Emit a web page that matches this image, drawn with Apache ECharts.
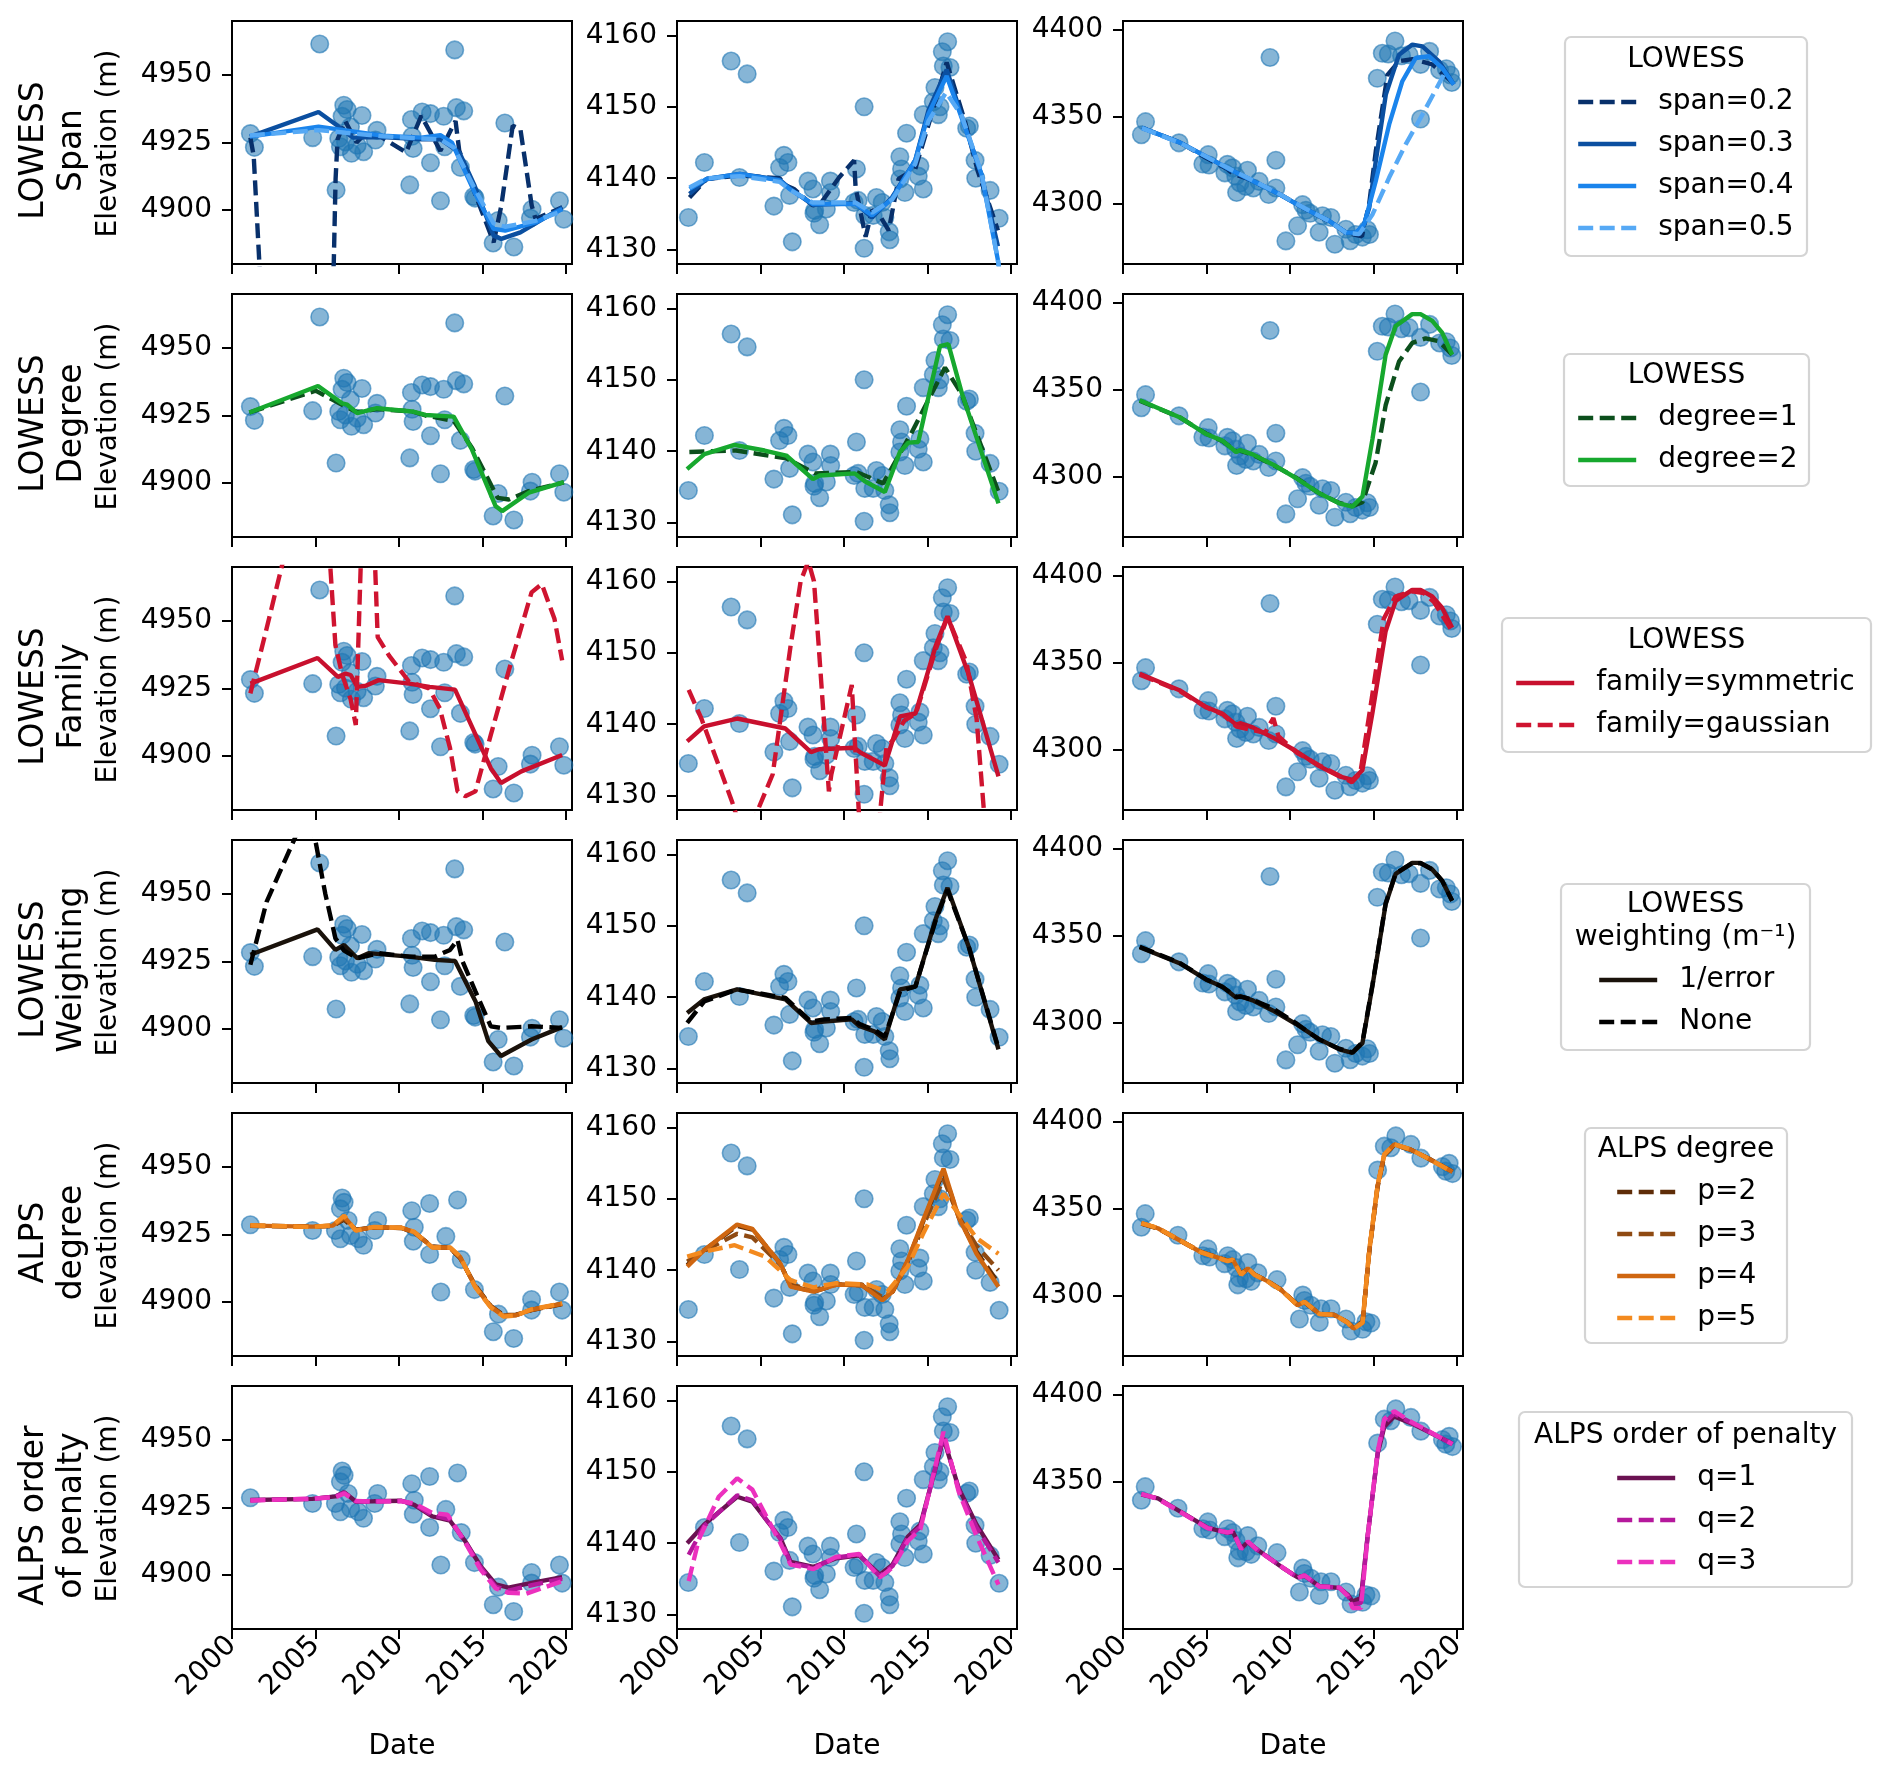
<!DOCTYPE html>
<html><head><meta charset="utf-8">
<script src="https://cdn.jsdelivr.net/npm/echarts@6/dist/echarts.min.js"></script>
<style>html,body{margin:0;padding:0;background:#fff}#c{width:1892px;height:1775px}</style>
</head><body><div id="c"></div>
<script>
// ---------------- DATA ----------------
const X_TICKS = [2000, 2005, 2010, 2015, 2020];
const Y_TICKS_G1 = [4900, 4925, 4950];
const Y_TICKS_G2 = [4130, 4140, 4150, 4160];
const Y_TICKS_G3 = [4300, 4350, 4400];

// observations (glacier 1,2,3) used by LOWESS rows
const obs_g1 = [[2001.1,4928.3],[2001.34,4923.2],[2005.25,4961.5],[2004.83,4926.8],[2006.23,4907.4],[2006.69,4938.8],[2006.89,4937.2],[2006.59,4934.7],[2007.09,4930.8],[2006.39,4926.5],[2006.49,4923.4],[2007.15,4921],[2006.79,4925.2],[2007.49,4924],[2007.78,4935],[2007.88,4921.6],[2008.68,4929.5],[2008.58,4925.9],[2010.74,4933.5],[2010.78,4927.3],[2010.84,4922.8],[2010.64,4909.3],[2011.38,4936.3],[2011.88,4935.7],[2012.67,4934.7],[2011.88,4917.5],[2012.48,4903.4],[2012.73,4923.4],[2013.33,4959.3],[2013.43,4937.9],[2013.87,4936.7],[2013.67,4915.8],[2014.47,4905],[2014.55,4904.4],[2015.93,4896.1],[2015.63,4887.8],[2016.87,4886.3],[2016.33,4932.2],[2017.96,4900.3],[2017.86,4897],[2019.6,4903.4],[2019.86,4896.6]];
const obs_g2 = [[2000.68,4134.5],[2001.64,4142.2],[2003.24,4156.4],[2004.2,4154.6],[2003.74,4140.1],[2005.8,4136.1],[2006.4,4143.2],[2006.64,4142.2],[2006.14,4141.5],[2006.74,4137.6],[2006.9,4131.1],[2007.84,4139.6],[2008.14,4138.5],[2008.24,4135.5],[2008.2,4135.1],[2008.54,4133.5],[2008.94,4135.7],[2009.18,4139.6],[2009.2,4138],[2010.74,4141.3],[2011.2,4150],[2010.6,4136.6],[2010.84,4136.9],[2011.2,4130.2],[2011.24,4134.8],[2011.94,4137.3],[2011.74,4134.8],[2012.28,4136.6],[2012.44,4134.5],[2012.7,4132.5],[2012.74,4131.4],[2013.34,4143],[2013.44,4141.3],[2013.34,4139.9],[2013.64,4138],[2013.74,4146.3],[2014.54,4141.7],[2014.44,4140.3],[2014.74,4138.5],[2014.74,4148.9],[2015.34,4150.7],[2015.44,4152.7],[2015.64,4148.9],[2015.74,4150],[2015.88,4157.7],[2016.2,4159.1],[2015.94,4155.7],[2016.34,4155.5],[2017.34,4147],[2017.5,4147.3],[2017.84,4142.5],[2017.88,4140],[2018.74,4138.3],[2019.28,4134.4]];
const obs_g3 = [[2001.1,4339.5],[2001.35,4347],[2003.35,4334.8],[2004.78,4322.6],[2005.1,4328],[2005.15,4322],[2006.25,4322.4],[2006.1,4317.5],[2006.55,4320.4],[2006.75,4315.6],[2007.45,4319],[2007.0,4311.7],[2006.8,4306.2],[2007.35,4309.7],[2007.8,4308.8],[2008.15,4312.6],[2008.72,4305],[2009.15,4308.8],[2008.8,4384],[2009.15,4324.8],[2010.75,4299.2],[2010.95,4296],[2010.45,4287],[2009.75,4278.3],[2011.2,4294.2],[2011.74,4283.3],[2011.94,4292.8],[2012.44,4291.8],[2012.68,4276.4],[2013.34,4285],[2013.6,4278.4],[2013.93,4282],[2014.33,4280.5],[2014.62,4284.7],[2014.75,4282],[2015.22,4372],[2015.52,4386.4],[2015.88,4386],[2016.28,4393.5],[2016.67,4385],[2017.12,4385.6],[2017.81,4380],[2018.35,4387.5],[2017.81,4348.5],[2018.95,4376.8],[2019.35,4377.5],[2019.6,4373.9],[2019.68,4369.6]];
// observations used by ALPS rows
const alpsObs_g1 = [[2001.1,4928.6],[2004.82,4926.5],[2006.59,4938.5],[2006.71,4936.9],[2006.49,4934.5],[2006.95,4930.2],[2006.19,4926.5],[2006.49,4923.4],[2007.1,4924.6],[2007.56,4923.4],[2007.87,4921],[2008.72,4930.2],[2008.54,4926.5],[2010.76,4933.8],[2010.91,4927.7],[2010.85,4922.5],[2011.83,4936.5],[2011.83,4917.6],[2012.5,4903.7],[2012.8,4924.3],[2013.5,4937.8],[2013.72,4915.7],[2014.51,4904.6],[2015.95,4895.5],[2015.64,4889],[2016.86,4886.5],[2017.93,4900.9],[2017.93,4897],[2019.6,4903.7],[2019.76,4897]];
const alpsObs_g3 = [[2001.1,4339.2],[2001.33,4347],[2003.29,4334.6],[2005.08,4326.7],[2004.78,4322.8],[2005.18,4322],[2006.27,4322.8],[2006.08,4318.2],[2006.57,4320.5],[2006.77,4315.9],[2007.47,4318.8],[2006.97,4310],[2006.87,4306],[2007.37,4309.5],[2007.67,4308],[2008.07,4312.9],[2009.22,4309],[2010.76,4300.1],[2010.86,4297],[2010.56,4286.3],[2011.25,4294.2],[2011.75,4284.3],[2011.85,4292.2],[2012.45,4292.2],[2013.35,4286.3],[2013.65,4279.4],[2014.34,4280.4],[2014.54,4284.7],[2014.84,4284],[2015.24,4372.1],[2015.64,4385.9],[2016.33,4391.8],[2016.03,4385],[2017.23,4386.9],[2017.83,4379],[2019.12,4374.1],[2019.52,4376],[2019.72,4370.1],[2019.32,4371.5]];

// Row 1: LOWESS span
const span02_g1 = [[2001.1,4926.8],[2001.3,4920],[2001.64,4880],[2003.8,4700],[2006.09,4880],[2006.2,4911.5],[2006.32,4926.2],[2006.77,4933],[2007.46,4925],[2008.0,4928.5],[2008.82,4927.5],[2010.42,4921.3],[2011.33,4934.9],[2012.47,4921.9],[2013.38,4933],[2013.6,4922],[2014.52,4906.5],[2015.66,4888],[2016.12,4901.6],[2016.8,4931.2],[2017.26,4930],[2017.94,4901.6],[2018.17,4896.7],[2019.77,4901]];
const span03_g1 = [[2001.07,4927.2],[2005.18,4936.3],[2006.32,4931.2],[2007.23,4926.8],[2009.0,4927],[2011.33,4926.2],[2012.47,4926.2],[2013.61,4921.3],[2014.52,4909],[2015.66,4890.5],[2016.12,4889.3],[2017.26,4891.7],[2019.77,4901]];
const span04_g1 = [[2001.07,4927.2],[2005.18,4930.9],[2006.8,4929.5],[2009.05,4927.5],[2011.33,4926.8],[2012.47,4927.7],[2013.16,4925],[2014.52,4906.5],[2015.66,4893],[2016.35,4892.4],[2018.17,4895.4],[2019.77,4900.4]];
const span05_g1 = [[2001.07,4927.6],[2005.18,4929.6],[2006.8,4928.6],[2009.05,4927.3],[2011.33,4926.5],[2012.47,4926.2],[2013.3,4923],[2014.52,4908],[2015.66,4895],[2016.35,4893.8],[2018.17,4896],[2019.77,4899.6]];
const span02_g2 = [[2000.75,4137.3],[2001.78,4139.9],[2003.76,4140.4],[2006.14,4140],[2006.5,4139],[2007.0,4138.5],[2008.12,4136.2],[2008.6,4136.5],[2009.7,4140.1],[2010.6,4142.5],[2010.69,4138.7],[2011.29,4131.8],[2011.68,4135.5],[2012.0,4135.3],[2012.67,4132.7],[2013.26,4139.9],[2014.26,4141.3],[2015.25,4149],[2016.14,4156.2],[2017.23,4148],[2018.0,4141],[2019.21,4132.7]];
const span03_g2 = [[2000.75,4137.8],[2001.78,4139.9],[2003.76,4140.6],[2006.14,4139.8],[2006.73,4138.6],[2008.12,4136.3],[2010.69,4136.5],[2011.68,4134.5],[2012.87,4137.3],[2014.26,4142.5],[2015.05,4149.5],[2016.14,4155.2],[2017.03,4148.8],[2018.22,4140.5],[2019.21,4130.5]];
const span04_g2 = [[2000.75,4138.5],[2001.78,4139.9],[2003.76,4140.6],[2006.14,4139.7],[2006.73,4138.5],[2008.12,4136.4],[2010.69,4136.4],[2011.68,4134.8],[2012.87,4137.1],[2014.26,4142.5],[2015.05,4149],[2016.14,4154.3],[2017.03,4148.5],[2018.22,4140.6],[2019.21,4128.5],[2019.3,4127]];
const span05_g2 = [[2000.75,4138.7],[2001.78,4140],[2003.76,4140.3],[2006.14,4139.5],[2006.73,4138.4],[2008.12,4136.6],[2010.69,4136.6],[2011.68,4135.2],[2012.87,4137],[2014.26,4142],[2015.05,4148],[2016.1,4152],[2017.03,4148.8],[2018.22,4140.8],[2019.21,4128.5],[2019.3,4127]];
const span02_g3 = [[2001.13,4343.5],[2003.42,4334.9],[2005.0,4326],[2006.2,4320],[2006.6,4317],[2007.5,4314],[2009.18,4306.3],[2010.77,4297.5],[2012.35,4289.5],[2013.35,4283],[2014.3,4281],[2014.74,4300],[2015.13,4330],[2015.83,4374],[2016.52,4381.8],[2017.32,4383],[2018.51,4380],[2019.8,4369]];
const span03_g3 = [[2001.13,4343.5],[2003.42,4334.9],[2006.2,4320.5],[2009.18,4306.1],[2010.77,4297.5],[2012.35,4289.8],[2013.35,4283.1],[2013.94,4283.1],[2014.4,4287],[2014.74,4297.5],[2015.13,4324.3],[2015.73,4362.6],[2016.52,4385.6],[2017.32,4391.4],[2017.92,4390.4],[2018.91,4381.8],[2019.8,4368.4]];
const span04_g3 = [[2001.13,4343.5],[2003.42,4334.9],[2006.2,4320.5],[2009.18,4306.1],[2010.77,4297.5],[2012.35,4289.8],[2013.35,4283.1],[2013.94,4283.1],[2014.44,4288],[2015.13,4312.8],[2015.93,4345.4],[2016.72,4370.3],[2017.52,4383.7],[2018.31,4384.7],[2019.1,4378],[2019.8,4368.4]];
const span05_g3 = [[2001.13,4343.3],[2003.42,4334.7],[2006.2,4320.7],[2009.18,4306.3],[2010.77,4297.7],[2012.35,4289.6],[2013.35,4283],[2014.14,4282.2],[2014.94,4293.7],[2015.93,4314.8],[2016.92,4333.9],[2017.92,4351.1],[2019.31,4376]];

// Row 2: LOWESS degree
const deg1_g1 = [[2001.04,4926.1],[2005.0,4934.2],[2006.59,4929],[2007.49,4926.2],[2008.68,4927.4],[2010.78,4926.5],[2011.58,4925],[2013.27,4923],[2014.37,4913],[2015.9,4894.5],[2016.57,4893.9],[2017.76,4897],[2019.86,4900.2]];
const deg2_g1 = [[2001.04,4926.1],[2005.15,4935.9],[2006.59,4929.5],[2006.9,4929],[2007.49,4925.9],[2008.68,4927.7],[2010.78,4926.5],[2011.58,4925.2],[2013.27,4924.6],[2014.37,4912.3],[2015.77,4891.5],[2016.17,4889.6],[2017.76,4896.4],[2019.86,4900.3]];
const deg1_g2 = [[2000.74,4139.9],[2003.54,4140.1],[2006.54,4139],[2008.24,4136.9],[2010.74,4137.1],[2012.34,4135.5],[2014.04,4142.6],[2016.04,4151.7],[2017.04,4148],[2019.24,4134.3]];
const deg2_g2 = [[2000.6,4137.5],[2001.64,4139.6],[2003.44,4140.9],[2005.24,4140.1],[2006.54,4139.4],[2008.14,4136.1],[2008.54,4136.6],[2010.64,4136.9],[2011.24,4135.8],[2012.44,4134.3],[2013.34,4139.9],[2013.84,4141.2],[2014.44,4141.3],[2015.74,4154.7],[2016.24,4155],[2017.04,4148.2],[2019.24,4132.7]];
const deg1_g3 = [[2001,4343.5],[2003.38,4334],[2004.98,4324.5],[2005.97,4320.2],[2006.77,4314.3],[2007.0,4314.8],[2007.76,4312.4],[2008.96,4306.6],[2010.35,4299.2],[2011.74,4290.2],[2012.94,4284.6],[2013.73,4282.8],[2014.33,4285],[2015.12,4307.8],[2015.72,4340.9],[2016.52,4366.1],[2017.31,4376.8],[2018.11,4379.4],[2018.91,4377.8],[2019.7,4370]];
const deg2_g3 = [[2001,4343.8],[2003.38,4334],[2004.98,4324.3],[2005.97,4320.4],[2006.77,4314],[2007.0,4315],[2007.76,4312.6],[2008.96,4306.8],[2010.35,4299],[2011.74,4290.3],[2012.94,4284.4],[2013.73,4282.5],[2014.33,4288.3],[2014.93,4321.4],[2015.72,4370],[2016.32,4386.6],[2017.31,4393.4],[2017.81,4393.4],[2018.51,4389.5],[2019.1,4382.7],[2019.7,4370]];

// Row 3: LOWESS family
const famSym_g1 = [[2001.1,4926.8],[2005.12,4936.3],[2006.34,4929.3],[2006.8,4930.5],[2007.1,4930],[2007.5,4925.6],[2008.0,4926],[2008.78,4928.1],[2010.6,4926.8],[2011.83,4925.6],[2013.35,4924.6],[2015.49,4895.5],[2016.1,4890],[2017.32,4894.3],[2019.76,4900.4]];
const famGau_g1 = [[2001.1,4923.2],[2001.92,4943.4],[2002.99,4970.5],[2004.4,5000],[2005.88,4970.5],[2006.19,4941],[2006.6,4930],[2007.1,4921],[2007.41,4911.5],[2008.1,5050],[2008.72,4944],[2009.39,4937.3],[2010.6,4927.5],[2011.8,4925],[2012.44,4917.6],[2013.05,4902.9],[2013.5,4886.9],[2013.96,4885.1],[2014.57,4886.9],[2015.49,4907.8],[2016.71,4934.8],[2017.93,4960.6],[2018.54,4963.7],[2019.3,4950.8],[2019.76,4935.4]];
const famSym_g2 = [[2000.61,4137.6],[2001.62,4139.7],[2003.6,4140.8],[2006.49,4139.4],[2008.02,4136.1],[2008.5,4136.5],[2010.61,4136.7],[2011.0,4136],[2011.83,4135],[2012.44,4134.2],[2013.35,4141.1],[2014.27,4141.5],[2015.49,4151],[2016.19,4155.1],[2017.47,4146.9],[2019.24,4132.7]];
const famGau_g2 = [[2000.7,4144.8],[2001.46,4140.8],[2003.29,4129.2],[2004.0,4124],[2004.66,4127],[2005.73,4133],[2006.8,4151],[2007.4,4160],[2007.86,4162.8],[2008.2,4160],[2008.48,4151],[2009.09,4130.6],[2009.24,4133],[2010.46,4145.5],[2010.9,4127],[2011.5,4120],[2012.13,4127],[2012.53,4136.7],[2013.0,4138],[2013.6,4140.5],[2014.3,4141.5],[2015.49,4150.5],[2016.19,4155],[2017.32,4148.7],[2017.93,4140.8],[2018.4,4127],[2018.7,4118]];
const famSym_g3 = [[2001,4343.5],[2003.38,4334],[2004.98,4324.3],[2005.97,4320.4],[2006.77,4314.2],[2007.0,4315],[2007.76,4312.6],[2008.96,4306.8],[2010.35,4299],[2011.74,4290.3],[2012.94,4284.4],[2013.73,4282.3],[2014.33,4288],[2014.93,4321],[2015.72,4368],[2016.32,4385.5],[2017.31,4391.8],[2017.81,4391.8],[2018.51,4388],[2019.1,4381.5],[2019.7,4370]];
const famGau_g3 = [[2001,4343],[2003.4,4333.5],[2005,4324],[2006,4320],[2006.8,4313],[2007.8,4311],[2008.5,4309.5],[2009.0,4318],[2009.3,4307.5],[2010.4,4298],[2011.7,4291],[2012.9,4285],[2013.7,4281],[2014.2,4286],[2014.9,4330],[2015.6,4375],[2016.3,4388],[2017.3,4391],[2018.0,4390],[2018.6,4385],[2019.7,4368]];

// Row 4: LOWESS weighting
const wErr_g1 = [[2001.1,4927.5],[2005.12,4936.9],[2006.19,4929.3],[2006.71,4931.1],[2007.5,4926.2],[2008.17,4928.1],[2010.6,4926.8],[2012.13,4925.6],[2013.35,4925.2],[2014.57,4910.3],[2015.34,4895.5],[2016.1,4890],[2017.93,4896.1],[2019.76,4900.7]];
const wNone_g1 = [[2001.1,4923.8],[2002.07,4947.1],[2003.75,4970.5],[2004.4,4980],[2004.97,4970.5],[2005.58,4950.2],[2006.19,4933.6],[2006.71,4929],[2007.5,4926.2],[2008.78,4928.1],[2010.6,4926.8],[2012.13,4926.8],[2013.05,4929.3],[2013.5,4933],[2013.8,4925],[2014.57,4913.9],[2015.49,4901],[2016.1,4900.4],[2017.93,4901],[2019.76,4900.4]];
const wErr_g2 = [[2000.61,4137.8],[2001.62,4139.7],[2003.6,4141.1],[2006.49,4139.7],[2008.02,4136.4],[2008.8,4136.6],[2010.46,4136.9],[2010.9,4136],[2011.83,4135.2],[2012.44,4134.1],[2013.35,4141.1],[2014.27,4141.5],[2015.49,4151],[2016.19,4155.3],[2017.47,4147],[2019.24,4132.7]];
const wNone_g2 = [[2000.61,4136.4],[2001.62,4139.4],[2003.6,4141.1],[2006.49,4139.9],[2008.02,4136.6],[2008.8,4136.9],[2010.46,4137.1],[2010.9,4136.3],[2011.83,4135.4],[2012.44,4134.5],[2013.35,4140.8],[2014.27,4141.5],[2015.49,4150.8],[2016.19,4155],[2017.47,4147],[2019.24,4132.9]];
const wErr_g3 = [[2001,4343.2],[2003.38,4334],[2004.98,4324.5],[2005.97,4320.4],[2006.77,4314.2],[2007.0,4315],[2007.76,4312.6],[2008.96,4306.8],[2010.35,4299],[2011.74,4290.3],[2012.94,4284.4],[2013.73,4282.3],[2014.33,4288],[2014.93,4321],[2015.72,4368],[2016.32,4385.5],[2017.31,4391.8],[2017.81,4391.8],[2018.51,4388],[2019.1,4381.5],[2019.7,4370]];
const wNone_g3 = [[2001,4343.5],[2003.38,4334.3],[2004.98,4324.7],[2005.97,4320.2],[2006.77,4314.8],[2007.2,4314.5],[2007.76,4313],[2008.96,4308],[2010.35,4299.5],[2011.74,4290],[2012.94,4284.8],[2013.73,4282.6],[2014.33,4288.5],[2014.93,4321.5],[2015.72,4368.5],[2016.32,4385.8],[2017.31,4391.6],[2017.81,4391.6],[2018.51,4388.2],[2019.1,4381.6],[2019.7,4370]];

// Row 5: ALPS degree
const p2_g1 = [[2001.1,4928.2],[2004.82,4928],[2006.04,4928.2],[2006.71,4930.5],[2007.41,4926.8],[2008.48,4927.6],[2010.15,4927.4],[2010.91,4925.7],[2011.98,4920.6],[2013.05,4920],[2013.66,4916.2],[2014.57,4906],[2015.49,4898.5],[2016.25,4895.2],[2017.01,4895.3],[2017.93,4897],[2019.76,4899.2]];
const p3_g1 = [[2001.1,4928.2],[2004.82,4928],[2006.04,4928.1],[2006.71,4931],[2007.41,4926.7],[2008.48,4927.6],[2010.15,4927.4],[2010.91,4925.8],[2011.98,4920.4],[2013.05,4920],[2013.66,4916.4],[2014.57,4905.8],[2015.49,4898.4],[2016.25,4895],[2017.01,4895.2],[2017.93,4897.1],[2019.76,4899.3]];
const p4_g1 = [[2001.1,4928.3],[2004.82,4927.9],[2006.04,4928.3],[2006.71,4931.6],[2007.41,4926.5],[2008.48,4927.7],[2010.15,4927.5],[2010.91,4925.9],[2011.98,4920.3],[2013.05,4920.1],[2013.66,4916.6],[2014.57,4905.6],[2015.49,4898.2],[2016.25,4894.8],[2017.01,4895.1],[2017.93,4897.2],[2019.76,4899.4]];
const p5_g1 = [[2001.1,4928.4],[2004.82,4927.8],[2006.04,4928.4],[2006.71,4932],[2007.41,4926.4],[2008.48,4927.8],[2010.15,4927.5],[2010.91,4926],[2011.98,4920.2],[2013.05,4920.2],[2013.66,4916.8],[2014.57,4905.4],[2015.49,4898],[2016.25,4894.6],[2017.01,4895],[2017.93,4897.3],[2019.76,4899.5]];
const p2_g2 = [[2000.61,4140.7],[2001.62,4142.8],[2003.6,4146.2],[2004.51,4145.7],[2006.19,4140.9],[2006.8,4137.8],[2008.17,4137],[2009.54,4138],[2011.07,4137.9],[2012.29,4135.9],[2012.9,4137],[2013.81,4141.3],[2014.73,4146.8],[2015.95,4153.8],[2016.86,4147.4],[2017.93,4142.6],[2019.24,4138.2]];
const p3_g2 = [[2000.61,4141.2],[2001.62,4142.7],[2003.6,4145.1],[2004.51,4144.6],[2006.19,4140.8],[2006.8,4138],[2008.17,4137.2],[2009.54,4138],[2011.07,4138],[2012.29,4136.2],[2012.9,4137],[2013.81,4141],[2014.73,4146.2],[2015.95,4152.8],[2016.86,4147.5],[2017.93,4143.4],[2019.24,4140]];
const p4_g2 = [[2000.61,4140.5],[2001.62,4142.8],[2003.6,4146.4],[2004.51,4145.8],[2006.19,4140.9],[2006.8,4137.7],[2008.17,4137],[2009.54,4138],[2011.07,4137.9],[2012.29,4135.8],[2012.9,4137],[2013.81,4141.4],[2014.73,4147],[2015.95,4154.2],[2016.86,4147.4],[2017.93,4142.3],[2019.24,4137.7]];
const p5_g2 = [[2000.61,4141.9],[2001.62,4142.6],[2003.45,4143.5],[2005.27,4141.9],[2006.8,4138.6],[2008.17,4137.6],[2009.54,4138.2],[2011.4,4138],[2012.59,4137],[2013.81,4140.5],[2014.73,4145.1],[2015.95,4150.7],[2016.86,4147.9],[2017.93,4144.5],[2019.24,4142.3]];
const p2_g3 = [[2001.1,4341.3],[2002.09,4338.5],[2004.68,4324.9],[2006.27,4319.9],[2006.57,4320.3],[2007.07,4312.2],[2007.47,4315.2],[2007.87,4312],[2008.67,4308.1],[2009.46,4303.2],[2010.46,4294.4],[2010.86,4296],[2011.75,4289.4],[2012.65,4288.6],[2013.45,4284.4],[2013.8,4281.2],[2014.34,4284.6],[2014.74,4325],[2015.24,4362.5],[2015.64,4380.5],[2016.23,4386.6],[2017.23,4383.8],[2018.23,4379.1],[2019.72,4371.2]];
const p3_g3 = [[2001.1,4341.4],[2002.09,4338.6],[2004.68,4324.8],[2006.27,4319.8],[2006.57,4320.4],[2007.07,4312],[2007.47,4315.4],[2007.87,4311.9],[2008.67,4308],[2009.46,4303.1],[2010.46,4294.3],[2010.86,4296.1],[2011.75,4289.3],[2012.65,4288.7],[2013.45,4284.3],[2013.8,4281],[2014.34,4284.4],[2014.74,4325.3],[2015.24,4362.9],[2015.64,4380.8],[2016.23,4386.8],[2017.23,4383.9],[2018.23,4379],[2019.72,4371.1]];
const p4_g3 = [[2001.1,4341.5],[2002.09,4338.6],[2004.68,4324.8],[2006.27,4319.8],[2006.57,4320.5],[2007.07,4311.9],[2007.47,4315.5],[2007.87,4311.9],[2008.67,4308],[2009.46,4303.1],[2010.46,4294.2],[2010.86,4296.2],[2011.75,4289.3],[2012.65,4288.7],[2013.45,4284.3],[2013.8,4280.8],[2014.34,4284.3],[2014.74,4325.7],[2015.24,4363.2],[2015.64,4381],[2016.23,4386.9],[2017.23,4383.9],[2018.23,4379],[2019.72,4371.1]];
const p5_g3 = [[2001.1,4341.6],[2002.09,4338.7],[2004.68,4324.7],[2006.27,4319.7],[2006.57,4320.6],[2007.07,4311.8],[2007.47,4315.6],[2007.87,4311.8],[2008.67,4307.9],[2009.46,4303],[2010.46,4294.1],[2010.86,4296.3],[2011.75,4289.2],[2012.65,4288.8],[2013.45,4284.2],[2013.8,4280.6],[2014.34,4284.2],[2014.74,4326],[2015.24,4363.5],[2015.64,4381.2],[2016.23,4387],[2017.23,4384],[2018.23,4378.9],[2019.72,4371]];

// Row 6: ALPS order of penalty
const q1_g1 = [[2001.1,4927.8],[2004.82,4928.2],[2006.19,4929.1],[2006.71,4930.7],[2007.41,4927.2],[2008.48,4927.3],[2010.15,4927.5],[2010.91,4926],[2011.98,4921.7],[2013.05,4920.1],[2013.96,4912.5],[2014.88,4903.3],[2015.79,4896.5],[2016.55,4895.3],[2017.93,4897.1],[2019.76,4899.2]];
const q2_g1 = [[2001.1,4927.7],[2004.82,4928.2],[2006.19,4929],[2006.71,4930.5],[2007.41,4927.3],[2008.48,4927.3],[2010.15,4927.4],[2010.91,4926.2],[2011.98,4922.2],[2013.05,4920.5],[2013.96,4912.3],[2014.88,4902.8],[2015.79,4895.6],[2016.55,4894.2],[2017.93,4896.2],[2019.76,4898.6]];
const q3_g1 = [[2001.1,4927.6],[2004.82,4928.3],[2006.19,4928.8],[2006.71,4930.2],[2007.41,4927.4],[2008.48,4927.2],[2010.15,4927.3],[2010.91,4926.5],[2011.98,4923],[2012.9,4922.3],[2013.96,4912],[2014.88,4902],[2015.79,4895],[2016.55,4893.4],[2017.62,4893.1],[2019.76,4897.7]];
const q1_g2 = [[2000.61,4140],[2001.62,4142.6],[2003.6,4146.5],[2004.51,4145.8],[2006.19,4140.7],[2006.8,4137.4],[2008.17,4136.7],[2009.54,4137.9],[2010.91,4138.3],[2012.13,4135.6],[2012.9,4137],[2013.81,4140.9],[2014.57,4142.6],[2015.95,4154.7],[2016.86,4147.7],[2017.93,4142.6],[2019.24,4137.7]];
const q2_g2 = [[2000.7,4138.4],[2001.62,4142.4],[2003.6,4146.7],[2004.51,4146],[2006.19,4140.6],[2006.8,4137.2],[2008.17,4136.6],[2009.54,4138],[2010.91,4138.4],[2012.13,4135.4],[2012.9,4136.8],[2013.81,4140.8],[2014.57,4142.3],[2015.95,4155],[2016.86,4147.5],[2017.93,4142.2],[2019.24,4137.3]];
const q3_g2 = [[2000.7,4134.7],[2001.3,4140.5],[2002.5,4146.5],[2003.6,4149.1],[2004.51,4147.5],[2006.19,4140],[2006.8,4137],[2008.17,4136.4],[2009.54,4138.1],[2010.91,4138.5],[2012.13,4135.2],[2012.9,4136.6],[2013.81,4140.3],[2014.57,4142],[2015.95,4155.6],[2016.86,4147.2],[2017.93,4141],[2019.24,4134.2]];
const q1_g3 = [[2001.1,4342.5],[2002.09,4340.2],[2005.08,4323.3],[2006.27,4320.4],[2006.57,4321],[2007.07,4311.5],[2007.47,4315],[2008.07,4310.5],[2009.66,4299.6],[2010.46,4294.7],[2010.86,4295.7],[2011.75,4289.7],[2012.95,4288.7],[2013.45,4284.8],[2013.75,4280.8],[2014.24,4282.8],[2014.64,4318.4],[2015.24,4365.8],[2015.64,4381.6],[2016.23,4387.5],[2017.23,4383.6],[2019.72,4371.7]];
const q2_g3 = [[2001.1,4342.6],[2002.09,4340.1],[2005.08,4323.2],[2006.27,4320.5],[2006.57,4321.2],[2007.07,4311.3],[2007.47,4315.2],[2008.07,4310.4],[2009.66,4299.7],[2010.46,4294.5],[2010.86,4295.8],[2011.75,4289.6],[2012.95,4288.8],[2013.45,4284.4],[2013.75,4279],[2014.24,4280],[2014.64,4318.2],[2015.24,4366.4],[2015.64,4383.5],[2016.23,4389],[2017.23,4384],[2019.72,4371.6]];
const q3_g3 = [[2001.1,4342.8],[2002.09,4340],[2005.08,4323],[2006.27,4320.6],[2006.57,4321.5],[2007.07,4311],[2007.47,4315.5],[2008.07,4310.2],[2009.66,4299.8],[2010.46,4294.3],[2010.86,4296],[2011.75,4289.5],[2012.95,4288.9],[2013.45,4284],[2013.75,4277],[2014.24,4277],[2014.64,4318],[2015.24,4367],[2015.64,4386],[2016.23,4390.5],[2017.23,4384.5],[2019.72,4371.5]];

// ---------------- LAYOUT / STYLE ----------------
const FONT = '"DejaVu Sans", sans-serif';
const COL_LEFT = [232, 677, 1123];
const ROW_TOP = [21, 294, 567, 840, 1113, 1386];
const PW = 340, PH = 243;
const Y_RANGE = [[4880, 4970], [4128, 4162], [4265, 4405]];
const Y_TICKS = [Y_TICKS_G1, Y_TICKS_G2, Y_TICKS_G3];
const DASH = [15, 6.5];
const LW = 4.4;

const ROWS = [
  { label: 'LOWESS\nSpan', obs: [obs_g1, obs_g2, obs_g3],
    lines: [
      { name: 'span=0.2', color: '#08306b', dash: true, data: [span02_g1, span02_g2, span02_g3] },
      { name: 'span=0.3', color: '#0b4fa0', dash: false, data: [span03_g1, span03_g2, span03_g3] },
      { name: 'span=0.4', color: '#1a84ec', dash: false, data: [span04_g1, span04_g2, span04_g3] },
      { name: 'span=0.5', color: '#56a9f5', dash: true, data: [span05_g1, span05_g2, span05_g3] }],
    legend: { title: 'LOWESS', box: [1565, 37, 242, 219], titleY: 60, left: 1576, top: 86 } },
  { label: 'LOWESS\nDegree', obs: [obs_g1, obs_g2, obs_g3],
    lines: [
      { name: 'degree=1', color: '#0c4f1c', dash: true, data: [deg1_g1, deg1_g2, deg1_g3] },
      { name: 'degree=2', color: '#17a82e', dash: false, data: [deg2_g1, deg2_g2, deg2_g3] }],
    legend: { title: 'LOWESS', box: [1564, 354, 245, 132], titleY: 376, left: 1576, top: 402 } },
  { label: 'LOWESS\nFamily', obs: [obs_g1, obs_g2, obs_g3],
    lines: [
      { name: 'family=symmetric', color: '#c8102e', dash: false, data: [famSym_g1, famSym_g2, famSym_g3] },
      { name: 'family=gaussian', color: '#cf1430', dash: true, data: [famGau_g1, famGau_g2, famGau_g3] }],
    legend: { title: 'LOWESS', box: [1502, 618, 369, 134], titleY: 641, left: 1514, top: 667 } },
  { label: 'LOWESS\nWeighting', obs: [obs_g1, obs_g2, obs_g3],
    lines: [
      { name: '1/error', color: '#1a120b', dash: false, data: [wErr_g1, wErr_g2, wErr_g3] },
      { name: 'None', color: '#000000', dash: true, data: [wNone_g1, wNone_g2, wNone_g3] }],
    legend: { title: 'LOWESS\nweighting (m\u207B\u00B9)', box: [1561, 884, 249, 166], titleY: 921.5, left: 1597, top: 964 } },
  { label: 'ALPS\ndegree', obs: [alpsObs_g1, obs_g2, alpsObs_g3],
    lines: [
      { name: 'p=2', color: '#5e2c07', dash: true, data: [p2_g1, p2_g2, p2_g3] },
      { name: 'p=3', color: '#8f4a12', dash: true, data: [p3_g1, p3_g2, p3_g3] },
      { name: 'p=4', color: '#cf6610', dash: false, data: [p4_g1, p4_g2, p4_g3] },
      { name: 'p=5', color: '#f38a1f', dash: true, data: [p5_g1, p5_g2, p5_g3] }],
    legend: { title: 'ALPS degree', box: [1585, 1128, 202, 215], titleY: 1150, left: 1615, top: 1176 } },
  { label: 'ALPS order\nof penalty', obs: [alpsObs_g1, obs_g2, alpsObs_g3],
    lines: [
      { name: 'q=1', color: '#6b1252', dash: false, data: [q1_g1, q1_g2, q1_g3] },
      { name: 'q=2', color: '#b5189c', dash: true, data: [q2_g1, q2_g2, q2_g3] },
      { name: 'q=3', color: '#ec30be', dash: true, data: [q3_g1, q3_g2, q3_g3] }],
    legend: { title: 'ALPS order of penalty', box: [1519, 1412, 333, 175], titleY: 1436, left: 1615, top: 1462 } }
];

// ---------------- BUILD OPTION ----------------
const plain = v => String(v);
const grid = [], xAxis = [], yAxis = [], series = [], legend = [], graphic = [];
ROWS.forEach((row, r) => {
  for (let c = 0; c < 3; c++) {
    const idx = r * 3 + c;
    const last = r === ROWS.length - 1;
    grid.push({ left: COL_LEFT[c], top: ROW_TOP[r], width: PW, height: PH,
      show: true, borderColor: '#000', borderWidth: 2, backgroundColor: 'transparent' });
    xAxis.push({
      gridIndex: idx, type: 'value', min: 2000, max: 2020.35,
      axisLine: { show: true, onZero: false, lineStyle: { color: '#000', width: 2 } },
      axisTick: { show: true, inside: false, length: 10, lineStyle: { color: '#000', width: 2 }, customValues: X_TICKS },
      axisLabel: { show: last, customValues: X_TICKS, formatter: plain, rotate: 45, margin: 12, fontSize: 28, color: '#000', fontFamily: FONT },
      splitLine: { show: false },
      name: last ? 'Date' : '', nameLocation: 'middle', nameGap: 104,
      nameTextStyle: { fontSize: 28, color: '#000', fontFamily: FONT }
    });
    yAxis.push({
      gridIndex: idx, type: 'value', min: Y_RANGE[c][0], max: Y_RANGE[c][1],
      axisLine: { show: true, onZero: false, lineStyle: { color: '#000', width: 2 } },
      axisTick: { show: true, inside: false, length: 10, lineStyle: { color: '#000', width: 2 }, customValues: Y_TICKS[c] },
      axisLabel: { show: true, customValues: Y_TICKS[c], formatter: plain, margin: 20, fontSize: 28, color: '#000', fontFamily: FONT },
      splitLine: { show: false }
    });
    series.push({
      type: 'scatter', name: 'obs_' + idx, xAxisIndex: idx, yAxisIndex: idx,
      data: row.obs[c], symbol: 'circle', symbolSize: 17.5, silent: true, z: 2,
      itemStyle: { color: 'rgba(31,119,180,0.68)', borderColor: 'rgba(31,119,180,0.75)', borderWidth: 1.6 }
    });
    row.lines.forEach(l => {
      series.push({
        type: 'line', name: l.name, xAxisIndex: idx, yAxisIndex: idx,
        data: l.data[c], symbol: 'none', showSymbol: false, clip: true, z: 3, silent: true,
        itemStyle: { color: l.color },
        lineStyle: { color: l.color, width: LW, type: l.dash ? DASH : 'solid', cap: 'butt' }
      });
    });
  }
  // row label + y label
  const cy = ROW_TOP[r] + PH / 2;
  graphic.push({ type: 'text', x: 53, y: cy + 8, rotation: Math.PI / 2, silent: true,
    style: { text: row.label, fontSize: 33, fontFamily: FONT, fill: '#000', align: 'center', verticalAlign: 'middle', lineHeight: 38 } });
  graphic.push({ type: 'text', x: 109, y: cy + 1, rotation: Math.PI / 2, silent: true,
    style: { text: 'Elevation (m)', fontSize: 28, fontFamily: FONT, fill: '#000', align: 'center', verticalAlign: 'middle' } });
  // legend box + title
  const lg = row.legend, b = lg.box;
  graphic.push({ type: 'rect', silent: true, z: 1,
    shape: { x: b[0], y: b[1], width: b[2], height: b[3], r: 6 },
    style: { fill: 'rgba(255,255,255,0.85)', stroke: '#d4d4d4', lineWidth: 2.2 } });
  graphic.push({ type: 'text', silent: true, z: 2, x: b[0] + b[2] / 2, y: lg.titleY,
    style: { text: lg.title, fontSize: 28, fontFamily: FONT, fill: '#000', align: 'center', verticalAlign: 'middle', lineHeight: 33 } });
  legend.push({
    data: row.lines.map(l => l.name), orient: 'vertical', left: lg.left, top: lg.top,
    padding: 0, itemGap: 10, itemWidth: 58, itemHeight: 14, selectedMode: false,
    itemStyle: { color: 'rgba(0,0,0,0)', borderColor: 'rgba(0,0,0,0)', borderWidth: 0, opacity: 0 },
    lineStyle: { width: LW },
    textStyle: { fontSize: 28, fontFamily: FONT, color: '#000', lineHeight: 32, padding: [0, 0, 0, 17] },
    z: 5
  });
});

const chart = echarts.init(document.getElementById('c'), null, { renderer: 'canvas' });
chart.setOption({
  animation: false, backgroundColor: '#fff',
  textStyle: { fontFamily: FONT },
  grid, xAxis, yAxis, series, legend, graphic
});
</script></body></html>
